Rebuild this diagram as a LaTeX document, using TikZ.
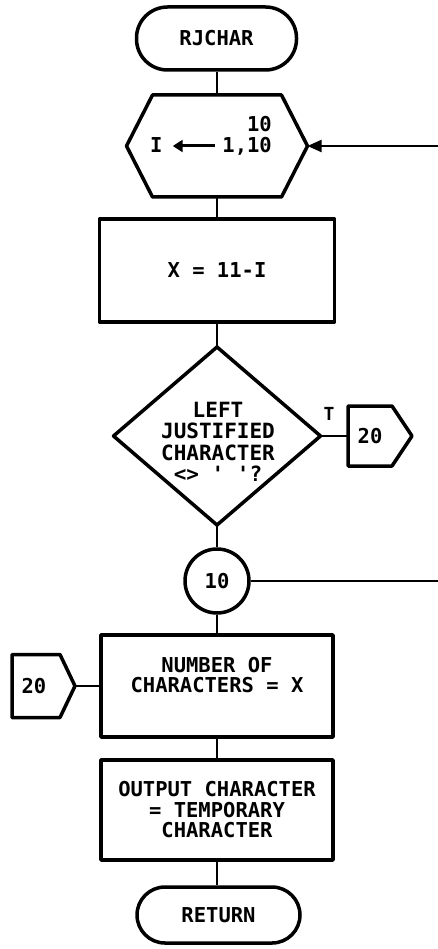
\documentclass[tikz,border=0pt]{standalone}
\usepackage{fontspec}
\setmonofont{DejaVu Sans Mono}
\usetikzlibrary{arrows.meta}
\begin{document}
\begin{tikzpicture}[x=1pt,y=-1pt,
  shp/.style={line width=3.5pt, line join=round},
  con/.style={line width=2pt},
  txt/.style={font=\ttfamily\bfseries\fontsize{20.5}{20.5}\selectfont, align=center, inner sep=0pt},
  frame/.style={inner sep=0pt, outer sep=0pt},
  term/.style={draw, shp, txt, minimum width=160pt, minimum height=63pt, rounded corners=31pt},
  procbox/.style={draw, shp, txt, minimum width=232pt},
]
\useasboundingbox (0,0) rectangle (438,949);

% start terminal
\node[term] (start) at (216.5,38.5) {RJCHAR};

% loop hexagon
\node[frame, minimum width=181pt, minimum height=102pt] (hex) at (217,146) {};
\draw[shp] ([xshift=26pt]hex.north west) -- ([xshift=-26pt]hex.north east) -- (hex.east)
  -- ([xshift=-26pt]hex.south east) -- ([xshift=26pt]hex.south west) -- (hex.west) -- cycle;
\node[txt, anchor=base west] (ivar) at (150,153) {I};
\node[txt, anchor=base east] (range) at (272,153) {1,10};
\node[txt, anchor=base east] (loopend) at (272,132) {10};
\draw[line width=3pt, -{Triangle[length=10pt,width=12pt]}]
  ([xshift=-7pt]range.west |- 0,146) -- ([xshift=10pt]ivar.east |- 0,146);

% process box 1
\node[procbox, minimum width=235pt, minimum height=103pt] (b1) at (217,270.5) {X = 11-I};

% decision
\node[frame, minimum width=207pt, minimum height=178pt] (dia) at (217,436) {};
\draw[shp] (dia.north) -- (dia.east) -- (dia.south) -- (dia.west) -- cycle;
\node[txt, font=\ttfamily\bfseries\fontsize{21}{21.5}\selectfont] (diatext) at (218,442) {LEFT\\JUSTIFIED\\CHARACTER\\<> ' '?};
\node[font=\ttfamily\bfseries\fontsize{18}{18}\selectfont, inner sep=0pt] (tlabel) at (329,414) {T};

% off-page connector 20 (right)
\node[frame, minimum width=64pt, minimum height=60pt] (r20) at (380,436) {};
\draw[shp] (r20.north west) -- ([xshift=-20pt]r20.north east) -- (r20.east)
  -- ([xshift=-20pt]r20.south east) -- (r20.south west) -- cycle;
\node[txt] (r20t) at (370,436) {20};

% connector circle 10
\node[draw, shp, txt, circle, minimum size=64pt] (c10) at (217,581) {10};

% process box 2
\node[procbox, minimum height=102pt] (b2) at (217,686) {};
\node[txt] (b2t) at (217,675) {NUMBER OF\\CHARACTERS = X};

% off-page connector 20 (left)
\node[frame, minimum width=63pt, minimum height=63pt] (l20) at (43.5,686) {};
\draw[shp] (l20.north west) -- ([xshift=-15pt]l20.north east) -- (l20.east)
  -- ([xshift=-15pt]l20.south east) -- (l20.south west) -- cycle;
\node[txt] (l20t) at (34,686) {20};

% process box 3
\node[procbox, minimum height=100pt] (b3) at (217,810) {OUTPUT CHARACTER\\= TEMPORARY\\CHARACTER};

% return terminal
\node[term, minimum width=163pt, minimum height=56pt, rounded corners=28pt] (ret) at (218.5,915) {RETURN};

% edge coordinate for loop-back line
\coordinate (edge) at (438,0);

% connectors
\draw[con] (start.south) -- (start.south |- hex.north);
\draw[con] (hex.south) -- (hex.south |- b1.north);
\draw[con] (b1.south) -- (b1.south |- dia.north);
\draw[con] (dia.east) -- (dia.east -| r20.west);
\draw[con] (dia.south) -- (dia.south |- c10.north);
\draw[con] (c10.south) -- (c10.south |- b2.north);
\draw[con] (l20.east) -- (l20.east -| b2.west);
\draw[con] (b2.south) -- (b2.south |- b3.north);
\draw[con] (b3.south) -- (b3.south |- ret.north);
\draw[con] (c10.east) -- (c10.east -| edge);
\draw[con, -{Triangle[length=14pt,width=12pt]}] (edge |- hex.east) -- (hex.east);
\end{tikzpicture}
\end{document}
